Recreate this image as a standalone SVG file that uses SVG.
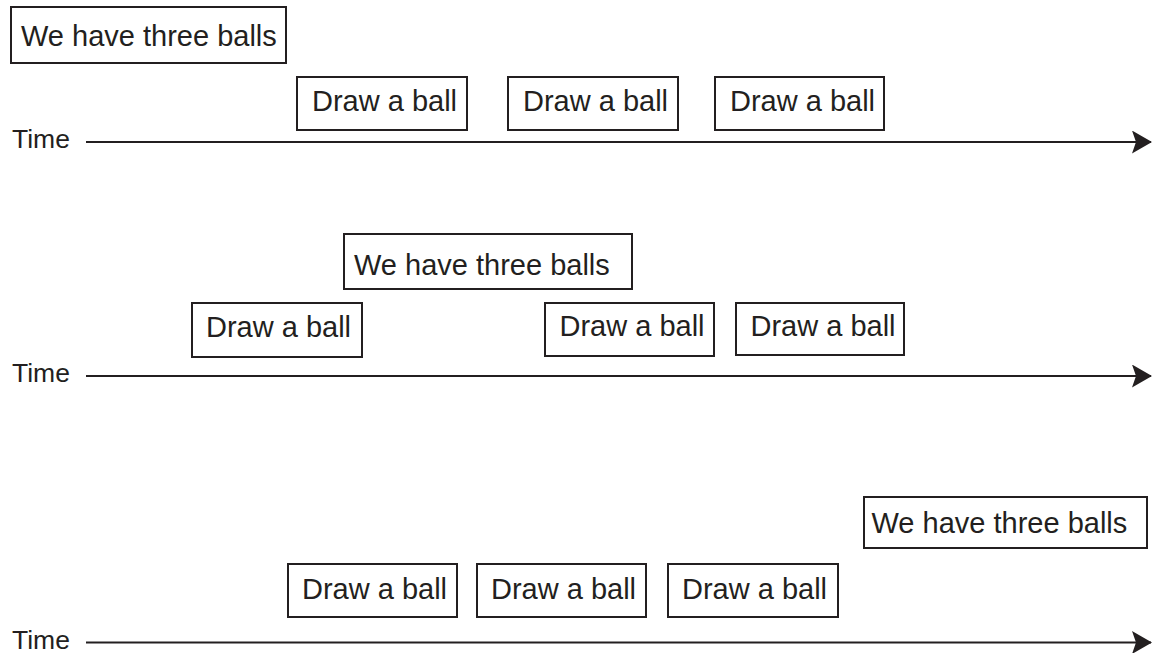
<svg xmlns="http://www.w3.org/2000/svg" width="1152" height="653" viewBox="0 0 1152 653">
<style>
.box{fill:#fff;stroke:#231f20;stroke-width:2}
.t{font-family:"Liberation Sans",Arial,sans-serif;font-size:29px;fill:#231f20}
.time{font-family:"Liberation Sans",Arial,sans-serif;font-size:26.5px;fill:#231f20}
.axis{stroke:#231f20;stroke-width:2;fill:none}
</style>
<defs>
<marker id="ah" markerUnits="userSpaceOnUse" viewBox="0 0 20 23" refX="19" refY="11.5" markerWidth="20" markerHeight="23" orient="auto">
<path d="M0,0 L20,11.5 L0,23 L4,11.5 Z" fill="#231f20"/>
</marker>
</defs>
<rect width="1152" height="653" fill="#fff"/>

<g id="connectors">
<line class="axis" x1="86" y1="142" x2="1151" y2="142" marker-end="url(#ah)"/>
<line class="axis" x1="86" y1="376" x2="1151" y2="376" marker-end="url(#ah)"/>
<line class="axis" x1="86" y1="642.5" x2="1151" y2="642.5" marker-end="url(#ah)"/>
</g>

<g id="time1"><text class="time" x="12" y="148">Time</text></g>
<g id="time2"><text class="time" x="12" y="382">Time</text></g>
<g id="time3"><text class="time" x="12" y="649">Time</text></g>

<g id="r1-three"><rect class="box" x="11" y="7" width="275" height="56"/><text class="t" x="21" y="46">We have three balls</text></g>
<g id="r1-draw1"><rect class="box" x="297" y="77" width="170" height="53"/><text class="t" x="312" y="110.5">Draw a ball</text></g>
<g id="r1-draw2"><rect class="box" x="508" y="77" width="170" height="53"/><text class="t" x="523" y="110.5">Draw a ball</text></g>
<g id="r1-draw3"><rect class="box" x="715" y="77" width="169" height="53"/><text class="t" x="730" y="110.5">Draw a ball</text></g>

<g id="r2-three"><rect class="box" x="344" y="234" width="288" height="55"/><text class="t" x="354" y="275">We have three balls</text></g>
<g id="r2-draw1"><rect class="box" x="192" y="303" width="170" height="54"/><text class="t" x="206" y="337">Draw a ball</text></g>
<g id="r2-draw2"><rect class="box" x="545" y="303" width="169" height="53"/><text class="t" x="559.5" y="336">Draw a ball</text></g>
<g id="r2-draw3"><rect class="box" x="736" y="303" width="168" height="52"/><text class="t" x="750.5" y="336">Draw a ball</text></g>

<g id="r3-three"><rect class="box" x="864" y="497" width="283" height="51"/><text class="t" x="871.5" y="533">We have three balls</text></g>
<g id="r3-draw1"><rect class="box" x="288" y="564" width="169" height="53"/><text class="t" x="302" y="599">Draw a ball</text></g>
<g id="r3-draw2"><rect class="box" x="477" y="564" width="169" height="53"/><text class="t" x="491" y="599">Draw a ball</text></g>
<g id="r3-draw3"><rect class="box" x="668" y="564" width="170" height="53"/><text class="t" x="682" y="599">Draw a ball</text></g>
</svg>
